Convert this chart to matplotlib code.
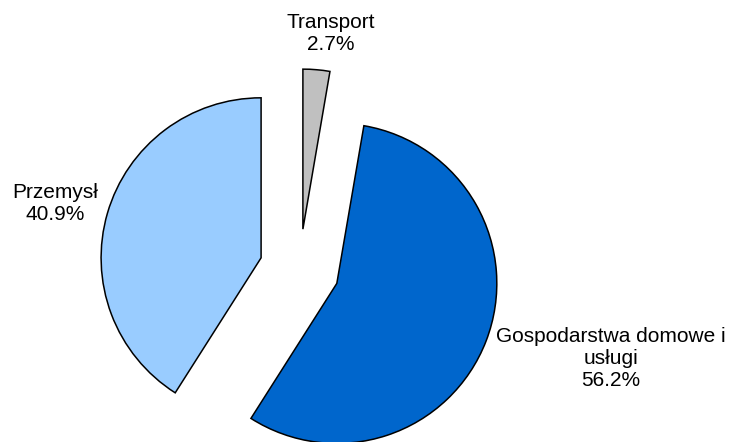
import matplotlib.pyplot as plt

plt.rcParams['font.family'] = ['Liberation Sans', 'DejaVu Sans']

labels = ['Transport', 'Gospodarstwa domowe i\nusługi', 'Przemysł']
shares = [2.7, 56.2, 40.9]
colors = ['#C0C0C0', '#0066CC', '#99CCFF']

fig = plt.figure(figsize=(7.33, 4.42), dpi=100)
ax = fig.add_axes([0, 0, 1, 1])

wedges, _ = ax.pie(shares, colors=colors, explode=[0.25] * len(shares),
                   startangle=90, counterclock=False,
                   wedgeprops=dict(edgecolor='black', linewidth=1.1))

# pie centre sits at about (299, 269) px, radius 160 px
cx, cy, r = 299.5, 269.0, 160.0
W, H = 733, 442
ax.set_xlim(-cx / r, (W - cx) / r)
ax.set_ylim(-(H - cy) / r, cy / r)
ax.set_aspect('auto')
ax.axis('off')

# label centres in pixels
label_pos = [(331, 34), (611, 359), (55, 204)]
for lab, val, (px, py) in zip(labels, shares, label_pos):
    fig.text(px / W, 1 - py / H, "%s\n%.1f%%" % (lab, val),
             ha='center', va='center', fontsize=15, linespacing=1.2)

fig.savefig('out.png', dpi=100)
